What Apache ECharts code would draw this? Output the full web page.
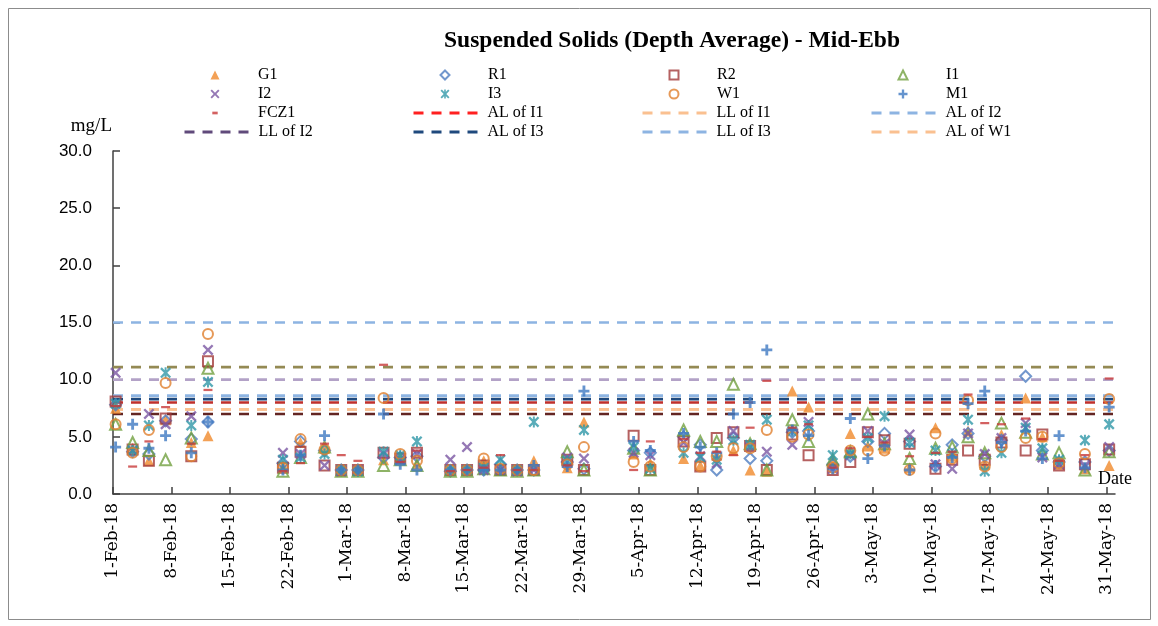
<!DOCTYPE html>
<html>
<head>
<meta charset="utf-8">
<title>Suspended Solids (Depth Average) - Mid-Ebb</title>
<script src="https://cdn.jsdelivr.net/npm/echarts@6/dist/echarts.min.js"></script>
<style>
  html, body { margin: 0; padding: 0; background: #fff; }
  #chart { width: 1158px; height: 626px; }
</style>
</head>
<body>
<div id="chart"></div>
<script>
// sampling times (mid-ebb)
var sampleTimes = [
  '2018-02-01 07:30', '2018-02-03 08:24', '2018-02-05 07:12', '2018-02-07 07:12',
  '2018-02-10 09:00', '2018-02-12 09:00', '2018-02-21 08:24', '2018-02-23 11:00',
  '2018-02-26 08:00', '2018-02-28 08:00', '2018-03-02 08:00', '2018-03-05 09:36',
  '2018-03-07 09:36', '2018-03-09 09:36', '2018-03-13 09:36', '2018-03-15 09:36',
  '2018-03-17 09:36', '2018-03-19 09:36', '2018-03-21 09:36', '2018-03-23 09:36',
  '2018-03-27 09:36', '2018-03-29 09:36', '2018-04-04 08:24', '2018-04-06 08:24',
  '2018-04-10 08:00', '2018-04-12 08:00', '2018-04-14 07:12', '2018-04-16 07:12',
  '2018-04-18 07:12', '2018-04-20 07:12', '2018-04-23 08:24', '2018-04-25 07:12',
  '2018-04-28 04:48', '2018-04-30 07:12', '2018-05-02 09:36', '2018-05-04 09:36',
  '2018-05-07 09:36', '2018-05-10 12:00', '2018-05-12 12:00', '2018-05-14 09:36',
  '2018-05-16 09:36', '2018-05-18 09:36', '2018-05-21 07:12', '2018-05-23 07:12',
  '2018-05-25 07:12', '2018-05-28 09:36', '2018-05-31 07:12'
];

var tickLabels = ['1-Feb-18', '8-Feb-18', '15-Feb-18', '22-Feb-18', '1-Mar-18', '8-Mar-18',
  '15-Mar-18', '22-Mar-18', '29-Mar-18', '5-Apr-18', '12-Apr-18', '19-Apr-18', '26-Apr-18',
  '3-May-18', '10-May-18', '17-May-18', '24-May-18', '31-May-18'];

// mg/L at each sampling time
var g1 = [7.5, 4.0, 2.9, 6.5, 4.5, 5.1, 2.5, 4.5, 4.0, 2.0, 2.1, 3.0, 3.3, 2.6, 2.1, 2.1, 2.9, 2.1, 2.1, 2.9, 2.3, 6.3, 3.5, 2.7, 3.1, 2.5, 3.4, 3.8, 2.1, 2.0, 9.0, 7.6, 2.9, 5.3, 4.2, 4.0, 2.3, 5.8, 3.3, 5.5, 2.6, 5.2, 8.4, 5.0, 2.6, 2.2, 2.5];
var r1 = [7.8, 3.7, 3.5, 6.4, 4.8, 6.3, 2.7, 4.6, 3.8, 2.1, 2.1, 3.2, 3.2, 3.3, 2.0, 2.1, 2.1, 2.6, 2.1, 2.1, 2.8, 2.2, 3.8, 3.6, 5.0, 4.3, 2.1, 4.9, 3.1, 2.9, 5.4, 5.5, 2.6, 3.3, 4.6, 5.3, 4.6, 2.4, 4.3, 5.3, 3.3, 4.7, 10.3, 3.8, 2.8, 2.8, 3.8];
var r2 = [8.1, 3.9, 2.9, 6.6, 3.3, 11.6, 2.3, 3.7, 2.5, 2.1, 2.1, 3.6, 3.1, 3.6, 2.1, 2.1, 2.5, 2.1, 2.1, 2.1, 3.0, 2.1, 5.1, 2.1, 4.6, 2.4, 4.9, 5.4, 4.2, 2.1, 5.2, 3.4, 2.1, 2.8, 5.4, 4.7, 4.4, 2.2, 3.0, 3.8, 3.0, 4.5, 3.8, 5.2, 2.5, 2.6, 3.9];
var i1 = [6.1, 4.5, 3.8, 3.0, 4.9, 11.0, 2.0, 3.2, 4.1, 2.0, 2.0, 2.5, 3.0, 2.5, 2.0, 2.0, 2.2, 2.1, 2.0, 2.1, 3.7, 2.1, 4.0, 2.1, 5.6, 4.6, 4.6, 9.6, 4.4, 2.1, 6.5, 4.6, 3.0, 3.7, 7.0, 4.4, 3.1, 4.0, 4.1, 5.0, 3.6, 6.2, 5.4, 3.5, 3.6, 2.1, 3.7];
var i2 = [10.6, 3.8, 7.0, 6.1, 6.8, 12.6, 3.6, 3.5, 2.5, 2.0, 2.1, 3.5, 3.0, 3.5, 3.0, 4.1, 2.1, 2.1, 2.0, 2.1, 3.2, 3.1, 3.6, 3.4, 4.5, 3.3, 2.7, 5.5, 4.1, 3.7, 4.3, 6.3, 2.2, 3.4, 5.5, 4.4, 5.2, 2.6, 2.2, 5.3, 3.5, 4.9, 6.2, 3.2, 2.6, 2.5, 4.1];
var i3 = [7.9, 3.8, 6.0, 10.6, 6.0, 9.8, 3.0, 3.2, 3.5, 2.1, 2.0, 3.7, 3.4, 4.6, 2.1, 2.1, 2.3, 3.0, 2.1, 6.3, 2.9, 5.6, 4.1, 2.2, 3.6, 3.2, 3.0, 4.7, 4.3, 6.5, 5.5, 6.0, 3.4, 3.5, 4.9, 6.8, 4.5, 3.8, 3.5, 6.5, 2.0, 3.6, 5.8, 4.0, 3.0, 4.7, 6.1];
var w1 = [6.1, 3.6, 5.6, 9.7, 3.3, 14.0, 2.3, 4.8, 3.9, 2.1, 2.1, 8.4, 3.5, 2.9, 2.1, 2.1, 3.1, 2.2, 2.1, 2.1, 2.6, 4.1, 2.8, 2.4, 4.1, 2.4, 3.3, 4.0, 4.0, 5.6, 5.0, 5.2, 2.3, 3.8, 3.8, 3.8, 2.1, 5.3, 3.1, 8.2, 2.4, 4.1, 4.9, 5.0, 2.7, 3.5, 8.3];
var m1 = [4.1, 6.1, 4.0, 5.1, 3.6, 6.3, 2.1, 3.4, 5.1, 2.1, 2.1, 7.0, 2.6, 2.1, 2.1, 2.1, 2.1, 2.1, 2.1, 2.5, 2.4, 9.0, 4.6, 3.8, 5.3, 4.1, 3.6, 7.0, 8.0, 12.6, 5.6, 5.1, 2.2, 6.6, 3.1, 4.2, 2.1, 2.5, 3.2, 7.9, 9.0, 4.5, 5.5, 3.1, 5.1, 2.3, 7.6];
var fcz1 = [7.7, 2.4, 4.6, 7.6, 4.4, 9.1, 2.0, 2.7, 4.4, 3.4, 2.9, 11.3, 2.8, 3.8, 2.0, 2.1, 2.3, 3.4, 2.1, 2.1, 2.5, 2.0, 2.1, 4.6, 4.8, 3.6, 3.7, 3.4, 5.8, 9.9, 5.8, 6.1, 2.3, 4.0, 5.0, 4.5, 3.3, 3.6, 3.7, 8.7, 6.2, 6.1, 6.6, 4.8, 2.9, 3.4, 10.1];

// action / limit levels (the last two are drawn but not in the legend)
var limitNames = ['AL of I1', 'LL of I1', 'AL of I2', 'LL of I2', 'AL of I3', 'LL of I3', 'AL of W1', 'LL of W1', 'AL of M1'];
var limitValues = [8.0, 7.4, 15.0, 10.0, 8.3, 8.6, 7.4, 11.1, 7.0];

// legend grid: 4 columns, marker rows first, then line rows
var legendMarkerCols = [['G1', 'I2', 'FCZ1'], ['R1', 'I3'], ['R2', 'W1'], ['I1', 'M1']];
var legendLineCols = [['LL of I2'], ['AL of I1', 'AL of I3'], ['LL of I1', 'LL of I3'], ['AL of I2', 'AL of W1']];

var MONTHS = {Jan: 0, Feb: 1, Mar: 2, Apr: 3, May: 4, Jun: 5};
var day0 = Date.UTC(2018, 1, 1);
function timeToDay(s) {
  var m = s.match(/(\d+)-(\d+)-(\d+) (\d+):(\d+)/);
  return (Date.UTC(+m[1], +m[2] - 1, +m[3], +m[4], +m[5]) - day0) / 86400000;
}
function labelToDay(s) {
  var p = s.split('-');
  return (Date.UTC(2000 + +p[2], MONTHS[p[1]], +p[0]) - day0) / 86400000;
}
var xDays = sampleTimes.map(timeToDay);
var tickDays = tickLabels.map(labelToDay);
function pairs(vals) {
  return vals.map(function (v, i) { return [xDays[i], v]; });
}

var serif = 'Liberation Serif';
var X_PATH = 'path://M1.5,0L5,3.5L8.5,0L10,1.5L6.5,5L10,8.5L8.5,10L5,6.5L1.5,10L0,8.5L3.5,5L0,1.5Z';
var STAR_PATH = X_PATH + ' M4.1,0L5.9,0L5.9,10L4.1,10Z';
var PLUS_PATH = 'path://M3.7,0L6.3,0L6.3,3.7L10,3.7L10,6.3L6.3,6.3L6.3,10L3.7,10L3.7,6.3L0,6.3L0,3.7L3.7,3.7Z';
var DASH_PATH = 'path://M0,0L10,0L10,5L0,5Z';
// same dash with an empty margin so the legend swatch is not stretched
var DASH_ICON = 'path://M0,0M10,10M2,3.5L8,3.5L8,6.5L2,6.5Z';

function hollow(c) {
  return {color: 'rgba(255,255,255,0)', borderColor: c, borderWidth: 2};
}
function scatter(name, vals, symbol, size, itemStyle) {
  return {name: name, type: 'scatter', data: pairs(vals), symbol: symbol,
    symbolSize: size, symbolKeepAspect: true, itemStyle: itemStyle, z: 3};
}

var limitColors = {
  'AL of I1': '#c0302c', 'LL of I1': '#fac090', 'AL of I2': '#8db4e2', 'LL of I2': '#b3a2c7',
  'AL of I3': '#1f497d', 'LL of I3': '#8db4e2', 'AL of W1': '#fac090', 'LL of W1': '#948a54',
  'AL of M1': '#632523'
};
// legend swatches that look different from the plotted lines
var legendColors = {'AL of I1': '#ff2020', 'LL of I2': '#604a7b'};

var series = limitNames.map(function (n, k) {
  return {name: n, type: 'line', data: [[0, limitValues[k]], [120, limitValues[k]]],
    symbol: 'none', silent: true, z: 2, itemStyle: {color: limitColors[n]},
    lineStyle: {color: limitColors[n], width: 2.6, type: [10, 8]}};
});
series = series.concat([
  scatter('G1', g1, 'triangle', 11, {color: '#f08a2c'}),
  scatter('R1', r1, 'diamond', 11, hollow('#4f7dc0')),
  scatter('R2', r2, 'rect', 10, hollow('#a33a3a')),
  scatter('I1', i1, 'triangle', 11, hollow('#72a040')),
  scatter('I2', i2, X_PATH, 11, {color: '#7a56a3'}),
  scatter('I3', i3, STAR_PATH, 11, {color: '#2f97a8'}),
  scatter('W1', w1, 'circle', 10, hollow('#e07f2e')),
  scatter('M1', m1, PLUS_PATH, 11, {color: '#3f79c2'}),
  scatter('FCZ1', fcz1, DASH_PATH, [9, 4.5], {color: '#c83a3a'})
]);

var legendText = {fontFamily: serif, fontSize: 16, color: '#000', lineHeight: 19};
var rowTop = 65.5, rowStep = 19, colStep = 229;
var legends = [];
legendMarkerCols.forEach(function (col, c) {
  legends.push({
    orient: 'vertical', left: 210.5 + c * colStep, top: rowTop, padding: 0, itemGap: 0,
    itemWidth: 9, itemHeight: 9, selectedMode: false, symbolKeepAspect: true,
    textStyle: Object.assign({padding: [0, 0, 0, 33.5]}, legendText),
    data: col.map(function (n) {
      return n === 'FCZ1' ? {name: n, icon: DASH_ICON} : {name: n};
    })
  });
});
legendLineCols.forEach(function (col, c) {
  var startRow = 4 - col.length;
  legends.push({
    orient: 'vertical', left: 183 + c * colStep, top: rowTop + startRow * rowStep, padding: 0,
    itemGap: 0, itemWidth: 64, itemHeight: 9, selectedMode: false,
    itemStyle: {opacity: 0},
    lineStyle: {width: 3},
    textStyle: Object.assign({padding: [0, 0, 0, 5]}, legendText),
    data: col.map(function (n) {
      var d = {name: n};
      if (legendColors[n]) d.lineStyle = {color: legendColors[n], width: 3};
      return d;
    })
  });
});

var chart = echarts.init(document.getElementById('chart'), null, {renderer: 'canvas'});
chart.setOption({
  animation: false,
  backgroundColor: '#fff',
  title: {
    text: 'Suspended Solids (Depth Average) - Mid-Ebb',
    left: 672, top: 29, textAlign: 'center', padding: 0,
    textStyle: {fontFamily: serif, fontSize: 23.5, fontWeight: 'bold', color: '#000'}
  },
  legend: legends,
  grid: {left: 113, right: 43, top: 151, bottom: 132, containLabel: false},
  xAxis: {
    type: 'value', min: 0, max: 120,
    name: 'Date', nameLocation: 'end', nameGap: -17,
    nameTextStyle: {fontFamily: serif, fontSize: 18, color: '#000', align: 'left',
      verticalAlign: 'bottom', padding: [0, 0, 6, 0]},
    axisLine: {lineStyle: {color: '#404040', width: 1.5}},
    axisTick: {show: true, inside: true, length: 7, customValues: tickDays,
      lineStyle: {color: '#404040', width: 1.5}},
    axisLabel: {customValues: tickDays, rotate: 90, margin: 9, color: '#000',
      fontFamily: 'DejaVu Serif', fontSize: 17,
      formatter: function (v) { return tickLabels[tickDays.indexOf(v)] || ''; }},
    splitLine: {show: false}
  },
  yAxis: {
    type: 'value', min: 0, max: 30, interval: 5,
    name: 'mg/L', nameLocation: 'end', nameGap: 15,
    nameTextStyle: {fontFamily: serif, fontSize: 19, color: '#000', align: 'right', padding: [0, 1, 0, 0]},
    axisLine: {show: true, lineStyle: {color: '#404040', width: 1.5}},
    axisTick: {show: true, inside: true, length: 7, lineStyle: {color: '#404040', width: 1.5}},
    axisLabel: {margin: 21, color: '#000', fontFamily: 'Liberation Sans', fontSize: 17,
      formatter: function (v) { return v.toFixed(1); }},
    splitLine: {show: false}
  },
  graphic: [{
    type: 'rect', silent: true, z: -1,
    shape: {x: 8.5, y: 8.5, width: 1142, height: 611},
    style: {fill: 'none', stroke: '#8c8c8c', lineWidth: 1}
  }],
  series: series
});
</script>
</body>
</html>
